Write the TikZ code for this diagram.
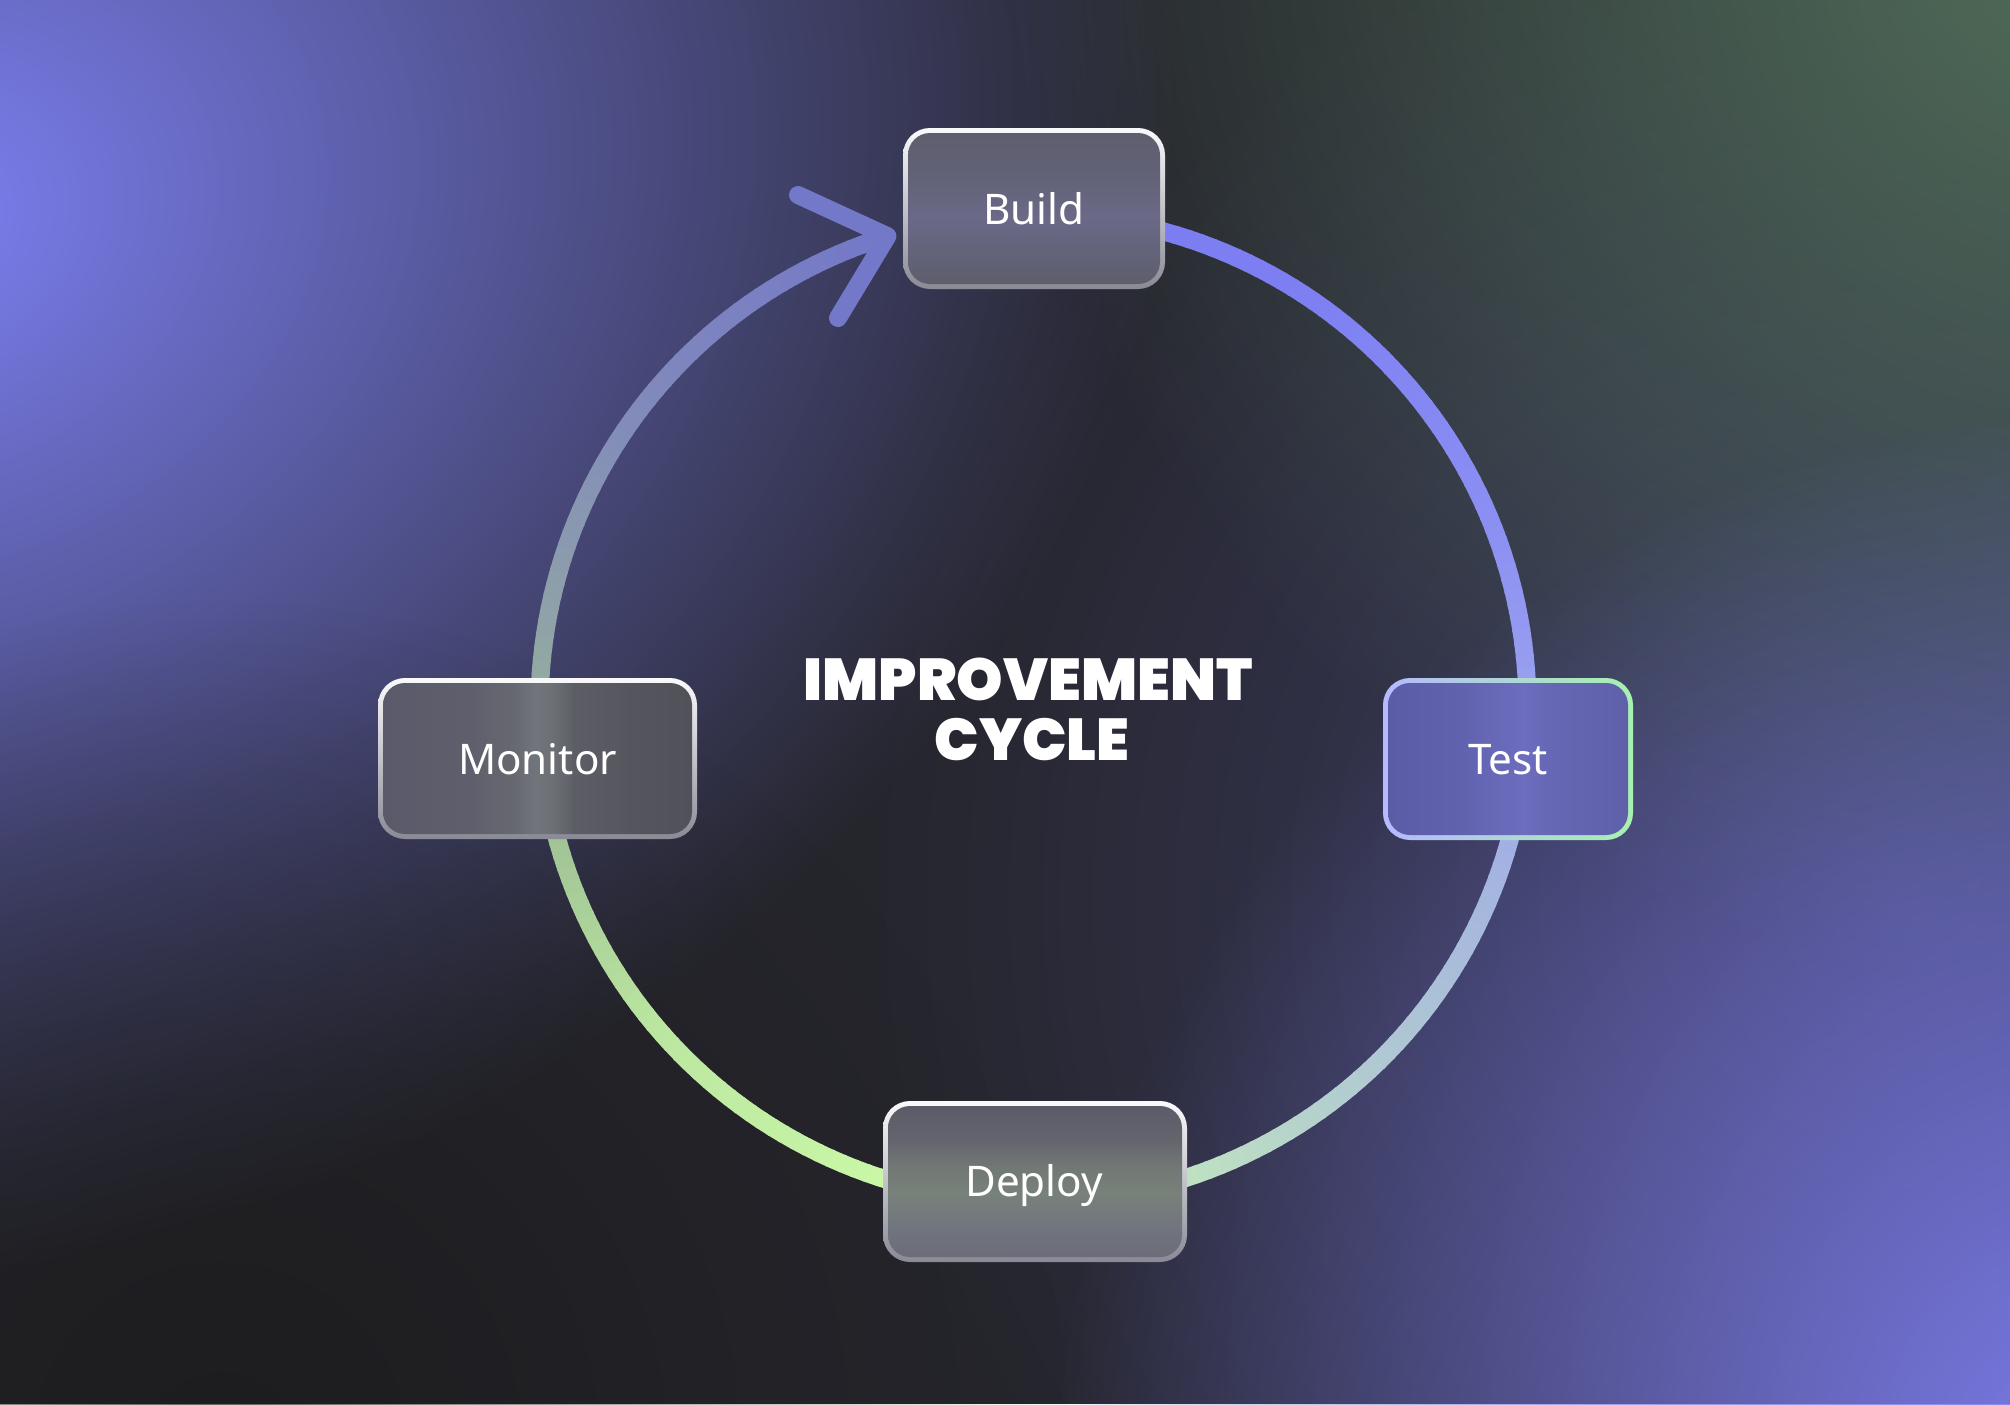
\documentclass[tikz,border=0pt]{standalone}
\usepackage{fontspec}
\setmainfont{Noto Sans}
\newfontfamily\titlefont{Poppins Black}
\usetikzlibrary{fadings}

% background colours
\definecolor{bgbase}{HTML}{25252C}
\definecolor{glowviolet}{HTML}{7E81F4}
\definecolor{glowvioletb}{HTML}{8080F4}
\definecolor{glowgreen}{HTML}{52705A}
\definecolor{glownavy}{HTML}{4A4A80}
\definecolor{glowdark}{HTML}{1A1A1A}
% ring colours
\definecolor{r0}{HTML}{7A7CEE}
\definecolor{r1}{HTML}{7C7EF2}
\definecolor{r2}{HTML}{8C90F2}
\definecolor{r3}{HTML}{9AA2EE}
\definecolor{r4}{HTML}{A4B4E0}
\definecolor{r5}{HTML}{B2CCD0}
\definecolor{r6}{HTML}{C0E4C0}
\definecolor{r7}{HTML}{CCF8A8}
\definecolor{r8}{HTML}{BAE6A0}
\definecolor{r9}{HTML}{9CBC94}
\definecolor{r10}{HTML}{8FA2A8}
\definecolor{r11}{HTML}{8088BC}
\definecolor{r12}{HTML}{7478C8}
\definecolor{arrowc}{HTML}{7478C8}
% box colours
\definecolor{bordertop}{HTML}{FAFAFC}
\definecolor{borderbot}{HTML}{8A8A96}
\definecolor{testleft}{HTML}{B6B9FF}
\definecolor{testright}{HTML}{A6F2AE}
\definecolor{bfa}{HTML}{5E5E6C}
\definecolor{bfb}{HTML}{63637A}
\definecolor{bfc}{HTML}{6A6A88}
\definecolor{bfd}{HTML}{5E5E6E}
\definecolor{dfa}{HTML}{6C6C7A}
\definecolor{dfb}{HTML}{70737E}
\definecolor{dfc}{HTML}{78817A}
\definecolor{dfd}{HTML}{717875}
\definecolor{dfe}{HTML}{63646D}
\definecolor{dff}{HTML}{5C5C6A}
\definecolor{mfa}{HTML}{5A5A6A}
\definecolor{mfb}{HTML}{5E5E6C}
\definecolor{mfc}{HTML}{66686F}
\definecolor{mfd}{HTML}{70747C}
\definecolor{mfe}{HTML}{6E7276}
\definecolor{mff}{HTML}{5C5E66}
\definecolor{mfg}{HTML}{55555E}
\definecolor{mfh}{HTML}{515159}
\definecolor{tfa}{HTML}{5A5CA6}
\definecolor{tfb}{HTML}{6062AE}
\definecolor{tfc}{HTML}{6D6DBF}
\definecolor{tfd}{HTML}{6668B6}
\definecolor{tfe}{HTML}{5E60AA}

\pgfdeclareverticalshading{buildfill}{100bp}{color(0bp)=(bfa); color(25bp)=(bfa); color(36bp)=(bfb); color(47bp)=(bfc); color(58bp)=(bfb); color(75bp)=(bfd); color(100bp)=(bfd)}
\pgfdeclareverticalshading{deployfill}{100bp}{color(0bp)=(dfa); color(25bp)=(dfa); color(33bp)=(dfb); color(46bp)=(dfc); color(55bp)=(dfd); color(64bp)=(dfe); color(75bp)=(dff); color(100bp)=(dff)}
\pgfdeclarehorizontalshading{monitorfill}{100bp}{color(0bp)=(mfa); color(25bp)=(mfa); color(38bp)=(mfb); color(46bp)=(mfc); color(49.5bp)=(mfd); color(52bp)=(mfe); color(56bp)=(mff); color(65bp)=(mfg); color(75bp)=(mfh); color(100bp)=(mfh)}
\pgfdeclarehorizontalshading{testfill}{100bp}{color(0bp)=(tfa); color(25bp)=(tfa); color(40bp)=(tfb); color(53.5bp)=(tfc); color(58bp)=(tfd); color(75bp)=(tfe); color(100bp)=(tfe)}

\tikzfading[name=glowfade, inner color=transparent!0, outer color=transparent!100]

\tikzset{
  ring/.style={line width=1.8mm, line cap=butt},
  chevron/.style={draw=arrowc, line width=1.8mm, line cap=round, line join=round},
  grayborder/.style={top color=bordertop, bottom color=borderbot},
  testborder/.style={left color=testleft, right color=testright},
  lbl/.style={text=white, inner sep=0pt, anchor=base, font=\fontsize{12}{14}\selectfont},
  ttl/.style={text=white, inner sep=0pt, anchor=base, font=\titlefont\fontsize{16.8}{19}\selectfont},
}

\newcommand\glassbox[6]{%
  \path[#5, rounded corners=2.7mm] (#1,#2) rectangle (#3,#4);
  \path[shade, shading=#6, rounded corners=2.2mm] ({#1+5},{#2+5}) rectangle ({#3-5},{#4-5});
}

\begin{document}
\begin{tikzpicture}[x=0.1mm, y=-0.1mm]
\useasboundingbox (0,0) rectangle (2010,1404);
% ---------- background ----------
\begin{scope}
\clip (0,0) rectangle (2010,1404);
\fill[bgbase] (0,0) rectangle (2010,1404);
\fill[glownavy, path fading=glowfade, opacity=0.7] (1900,900) circle (1050);
\begin{scope}[transform canvas={shift={(-100,220)}, rotate=18}]
  \fill[glowviolet, path fading=glowfade] (0,0) ellipse [x radius=1300, y radius=1050];
\end{scope}
\fill[glowgreen, path fading=glowfade] (2100,-100) circle (1100);
\fill[glowvioletb, path fading=glowfade] (2150,1500) circle (1100);
\fill[glowdark, path fading=glowfade, opacity=0.7] (220,1450) circle (850);
\end{scope}

% ---------- ring ----------
\def\cx{1033.5}\def\cy{708}\def\R{494}
\foreach \a/\b/\ca/\cb in {100/60/r0/r1, 60/20/r1/r2, 20/0/r2/r3, 0/-20/r3/r4, -20/-50/r4/r5, -50/-75/r5/r6, -75/-105/r6/r7, -105/-140/r7/r8, -140/-170/r8/r9, -170/-190/r9/r10, -190/-220/r10/r11, -220/-252.5/r11/r12}{
  \pgfmathtruncatemacro\n{max(1,round(abs(\b-\a)/1.5))}
  \foreach \i in {1,...,\n}{
    \pgfmathsetmacro\ta{\a+(\b-\a)*(\i-1)/\n}
    \pgfmathsetmacro\tb{\a+(\b-\a)*\i/\n-0.3}
    \pgfmathtruncatemacro\p{100*(1-(\i-0.5)/\n)}
    \draw[ring, color=\ca!\p!\cb] ({\cx+\R*cos(\ta)},{\cy-\R*sin(\ta)}) arc[start angle=-\ta, end angle=-\tb, radius=\R];
  }
}
% arrow head
\coordinate (tip) at ({\cx+\R*cos(107.2)},{\cy-\R*sin(107.2)});
\coordinate (armA) at (798,195);
\coordinate (armB) at (838,318);
\draw[chevron] (armA) -- (tip) -- (armB);

% ---------- boxes ----------
\glassbox{903}{128}{1165}{289}{grayborder}{buildfill}
\glassbox{378}{678}{697}{839}{grayborder}{monitorfill}
\glassbox{1383}{678}{1633}{840}{testborder}{testfill}
\glassbox{883}{1101}{1187}{1262}{grayborder}{deployfill}

\node[lbl] (build) at (1034,224) {Build};
\node[lbl] (monitor) at (537.5,774) {Monitor};
\node[lbl] (test) at (1508,774) {Test};
\node[lbl] (deploy) at (1034,1196) {Deploy};

\node[ttl] (title1) at (1028,700) {IMPROVEMENT};
\node[ttl] (title2) at (1032,760) {CYCLE};
\end{tikzpicture}
\end{document}
